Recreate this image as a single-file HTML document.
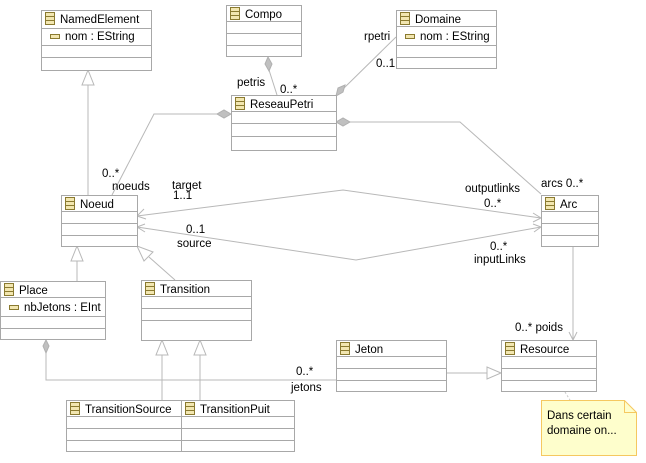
<!DOCTYPE html>
<html><head><style>
body{margin:0;background:#fff;}
svg{display:block;font-family:"Liberation Sans",sans-serif;font-size:11.5px;fill:#000;}
.b{fill:#fff;stroke:#a8a8a8;stroke-width:1;}
.l{fill:none;stroke:#b8b8b8;stroke-width:1;}
.d{fill:#c0c0c0;stroke:#b0b0b0;}
.t{fill:#fff;stroke:#b8b8b8;}
.ic{fill:#f2e6b0;stroke:#8a7a30;stroke-width:1;}
</style></head><body>
<svg width="646" height="463" viewBox="0 0 646 463">
<defs>
<g id="ico"><rect class="ic" x="0.5" y="0.5" width="9" height="12"/><line x1="0.5" y1="4.5" x2="9.5" y2="4.5" stroke="#8a7a30"/><line x1="0.5" y1="8.5" x2="9.5" y2="8.5" stroke="#8a7a30"/></g>
<g id="att"><rect x="0.5" y="0.5" width="9" height="4" fill="#f2e6b0" stroke="#8a7a30"/></g>
</defs>

<!-- connectors -->
<polyline class="l" points="88,85 88,195"/>
<polygon class="t" points="88,70 82,85 94,85"/>
<polyline class="l" points="112,195 154,114 231,114"/>
<polygon class="d" points="231,114 224,110 217,114 224,118"/>
<line class="l" x1="277" y1="95" x2="269" y2="70"/>
<polygon class="d" points="268,57 265,64 269,71 272,64"/>
<line class="l" x1="396" y1="37" x2="342" y2="90"/>
<polygon class="d" points="336,96 338,88 345,85 343,92"/>
<polyline class="l" points="350,122 460,122 541,194"/>
<polygon class="d" points="336,122 343,118 350,122 343,126"/>
<polyline class="l" points="137,216 343,190 541,218"/>
<polyline class="l" points="144,209 137,216 146,219"/>
<polyline class="l" points="533,213 541,218 533,222"/>
<polyline class="l" points="137,227 356,260 541,227"/>
<polyline class="l" points="145,224 137,227 145,232"/>
<polyline class="l" points="533,224 541,227 534,232"/>
<line class="l" x1="77" y1="261" x2="77" y2="281"/>
<polygon class="t" points="77,246 71,261 83,261"/>
<line class="l" x1="149" y1="257" x2="175" y2="280"/>
<polygon class="t" points="137,246 144,261 153,252"/>
<line class="l" x1="162" y1="355" x2="162" y2="400"/>
<polygon class="t" points="162,340 156,355 168,355"/>
<line class="l" x1="200" y1="355" x2="200" y2="400"/>
<polygon class="t" points="200,340 194,355 206,355"/>
<polyline class="l" points="46,353 46,380 336,380"/>
<polygon class="d" points="46,340 43,346 46,353 49,346"/>
<line class="l" x1="446" y1="373" x2="487" y2="373"/>
<polygon class="t" points="501,373 487,367 487,379"/>
<line class="l" x1="573" y1="246" x2="573" y2="340"/>
<polyline class="l" points="569,332 573,340 577,332"/>
<line x1="565" y1="392" x2="570" y2="400" stroke="#c8c8c8" stroke-dasharray="2,2"/>

<!-- classes -->
<g>
<rect class="b" x="41.5" y="10.5" width="110" height="60"/>
<line class="b" x1="41" y1="28.5" x2="151" y2="28.5"/><line class="b" x1="41" y1="45.5" x2="151" y2="45.5"/><line class="b" x1="41" y1="57.5" x2="151" y2="57.5"/>
<use href="#ico" x="45" y="12"/><text x="60" y="23">NamedElement</text>
<use href="#att" x="50" y="34"/><text x="65" y="40">nom : EString</text>
</g>
<g>
<rect class="b" x="226.5" y="5.5" width="75" height="51"/>
<line class="b" x1="226" y1="21.5" x2="301" y2="21.5"/><line class="b" x1="226" y1="33.5" x2="301" y2="33.5"/><line class="b" x1="226" y1="45.5" x2="301" y2="45.5"/>
<use href="#ico" x="230" y="7"/><text x="245" y="18">Compo</text>
</g>
<g>
<rect class="b" x="396.5" y="10.5" width="100" height="58"/>
<line class="b" x1="396" y1="26.5" x2="496" y2="26.5"/><line class="b" x1="396" y1="45.5" x2="496" y2="45.5"/><line class="b" x1="396" y1="57.5" x2="496" y2="57.5"/>
<use href="#ico" x="400" y="12"/><text x="415" y="23">Domaine</text>
<use href="#att" x="405" y="34"/><text x="420" y="40">nom : EString</text>
</g>
<g>
<rect class="b" x="231.5" y="95.5" width="105" height="55"/>
<line class="b" x1="231" y1="111.5" x2="336" y2="111.5"/><line class="b" x1="231" y1="123.5" x2="336" y2="123.5"/><line class="b" x1="231" y1="136.5" x2="336" y2="136.5"/>
<use href="#ico" x="235" y="97"/><text x="250" y="108">ReseauPetri</text>
</g>
<g>
<rect class="b" x="61.5" y="195.5" width="76" height="51"/>
<line class="b" x1="61" y1="211.5" x2="137" y2="211.5"/><line class="b" x1="61" y1="223.5" x2="137" y2="223.5"/><line class="b" x1="61" y1="235.5" x2="137" y2="235.5"/>
<use href="#ico" x="65" y="197"/><text x="80" y="208">Noeud</text>
</g>
<g>
<rect class="b" x="541.5" y="195.5" width="57" height="51"/>
<line class="b" x1="541" y1="211.5" x2="598" y2="211.5"/><line class="b" x1="541" y1="223.5" x2="598" y2="223.5"/><line class="b" x1="541" y1="235.5" x2="598" y2="235.5"/>
<use href="#ico" x="545" y="197"/><text x="560" y="208">Arc</text>
</g>
<g>
<rect class="b" x="0.5" y="281.5" width="105" height="58"/>
<line class="b" x1="0" y1="297.5" x2="105" y2="297.5"/><line class="b" x1="0" y1="316.5" x2="105" y2="316.5"/><line class="b" x1="0" y1="328.5" x2="105" y2="328.5"/>
<use href="#ico" x="4" y="283"/><text x="19" y="294">Place</text>
<use href="#att" x="9" y="305"/><text x="24" y="311">nbJetons : EInt</text>
</g>
<g>
<rect class="b" x="141.5" y="280.5" width="110" height="60"/>
<line class="b" x1="141" y1="296.5" x2="251" y2="296.5"/><line class="b" x1="141" y1="308.5" x2="251" y2="308.5"/><line class="b" x1="141" y1="320.5" x2="251" y2="320.5"/>
<use href="#ico" x="145" y="282"/><text x="160" y="293">Transition</text>
</g>
<g>
<rect class="b" x="66.5" y="400.5" width="115" height="51"/>
<line class="b" x1="66" y1="416.5" x2="181" y2="416.5"/><line class="b" x1="66" y1="428.5" x2="181" y2="428.5"/><line class="b" x1="66" y1="440.5" x2="181" y2="440.5"/>
<use href="#ico" x="70" y="402"/><text x="85" y="413">TransitionSource</text>
</g>
<g>
<rect class="b" x="181.5" y="400.5" width="113" height="51"/>
<line class="b" x1="181" y1="416.5" x2="294" y2="416.5"/><line class="b" x1="181" y1="428.5" x2="294" y2="428.5"/><line class="b" x1="181" y1="440.5" x2="294" y2="440.5"/>
<use href="#ico" x="185" y="402"/><text x="200" y="413">TransitionPuit</text>
</g>
<g>
<rect class="b" x="336.5" y="340.5" width="110" height="51"/>
<line class="b" x1="336" y1="356.5" x2="446" y2="356.5"/><line class="b" x1="336" y1="368.5" x2="446" y2="368.5"/><line class="b" x1="336" y1="380.5" x2="446" y2="380.5"/>
<use href="#ico" x="340" y="342"/><text x="355" y="353">Jeton</text>
</g>
<g>
<rect class="b" x="501.5" y="340.5" width="95" height="51"/>
<line class="b" x1="501" y1="356.5" x2="596" y2="356.5"/><line class="b" x1="501" y1="368.5" x2="596" y2="368.5"/><line class="b" x1="501" y1="380.5" x2="596" y2="380.5"/>
<use href="#ico" x="505" y="342"/><text x="520" y="353">Resource</text>
</g>
<!-- note -->
<polygon points="541.5,400.5 624.5,400.5 636.5,412.5 636.5,455.5 541.5,455.5" fill="#fefecc" stroke="#f5c860"/>
<polyline points="624.5,400.5 624.5,412.5 636.5,412.5" fill="none" stroke="#f5c860"/>
<text x="547" y="419">Dans certain</text>
<text x="547" y="434">domaine on...</text>

<!-- labels -->
<text x="237" y="86">petris</text>
<text x="280" y="93">0..*</text>
<text x="364" y="40">rpetri</text>
<text x="376" y="67">0..1</text>
<text x="102" y="177">0..*</text>
<text x="112" y="190">noeuds</text>
<text x="172" y="189">target</text>
<text x="173" y="199">1..1</text>
<text x="186" y="233">0..1</text>
<text x="177" y="247">source</text>
<text x="465" y="192">outputlinks</text>
<text x="484" y="207">0..*</text>
<text x="541" y="187">arcs 0..*</text>
<text x="490" y="250">0..*</text>
<text x="474" y="263">inputLinks</text>
<text x="515" y="331">0..* poids</text>
<text x="296" y="375">0..*</text>
<text x="291" y="391">jetons</text>
</svg>
</body></html>
